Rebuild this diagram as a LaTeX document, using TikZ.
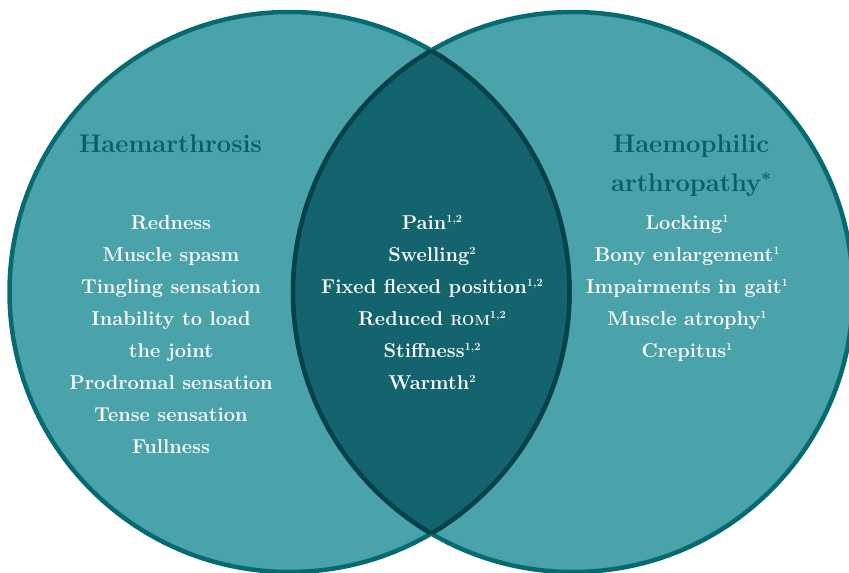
\documentclass[tikz,border=0pt]{standalone}
\definecolor{lightfill}{HTML}{4AA3AA}
\definecolor{outerline}{HTML}{066B70}
\definecolor{lensfill}{HTML}{13646E}
\definecolor{lensline}{HTML}{054248}
\definecolor{titlecol}{HTML}{0C5E64}
\newcommand{\sups}[1]{\raisebox{7pt}{\fontsize{11}{11}\selectfont #1}}
\begin{document}
\begin{tikzpicture}[x=1pt,y=-1pt,
  item/.style={anchor=base, inner sep=0pt, text=white, font=\fontsize{20}{24}\selectfont\bfseries},
  ttl/.style={anchor=base, inner sep=0pt, text=titlecol, font=\fontsize{25.5}{39}\selectfont\bfseries},
  ring/.style={line width=4.5pt}]
\useasboundingbox (0,0) rectangle (849,573);
\coordinate (cl) at (289.5,292);
\coordinate (cr) at (573,292);
% fills
\fill[lightfill] (cl) circle [radius=280pt];
\fill[lightfill] (cr) circle [radius=280pt];
\begin{scope}
  \clip (cl) circle [radius=280pt];
  \fill[lensfill] (cr) circle [radius=280pt];
\end{scope}
% outer rings
\draw[ring, outerline] (cl) circle [radius=280pt];
\draw[ring, outerline] (cr) circle [radius=280pt];
% lens borders
\begin{scope}
  \clip (cl) circle [radius=280pt];
  \draw[ring, lensline] (cr) circle [radius=280pt];
\end{scope}
\begin{scope}
  \clip (cr) circle [radius=280pt];
  \draw[ring, lensline] (cl) circle [radius=280pt];
\end{scope}
% titles
\node[ttl] (t1) at (170.5,152) {Haemarthrosis};
\node[ttl] (t2a) at (691,152) {Haemophilic};
\node[ttl] (t2b) at (691,191) {arthropathy\raisebox{6pt}{\fontsize{17}{17}\selectfont *}};
% left items
\node[item] (l1) at (171,229.5) {Redness};
\node[item] (l2) at (171,261.5) {Muscle spasm};
\node[item] (l3) at (171,293.5) {Tingling sensation};
\node[item] (l4) at (171,325.5) {Inability to load};
\node[item] (l5) at (171,357.5) {the joint};
\node[item] (l6) at (171,389.5) {Prodromal sensation};
\node[item] (l7) at (171,421.5) {Tense sensation};
\node[item] (l8) at (171,453.5) {Fullness};
% centre items
\node[item] (c1) at (432,229.5) {Pain\sups{1,2}};
\node[item] (c2) at (432,261.5) {Swelling\sups{2}};
\node[item] (c3) at (432,293.5) {Fixed flexed position\sups{1,2}};
\node[item] (c4) at (432,325.5) {Reduced {\fontsize{14.5}{15}\selectfont ROM}\sups{1,2}};
\node[item] (c5) at (432,357.5) {Stiffness\sups{1,2}};
\node[item] (c6) at (432,389.5) {Warmth\sups{2}};
% right items
\node[item] (r1) at (687,229.5) {Locking\sups{1}};
\node[item] (r2) at (687,261.5) {Bony enlargement\sups{1}};
\node[item] (r3) at (687,293.5) {Impairments in gait\sups{1}};
\node[item] (r4) at (687,325.5) {Muscle atrophy\sups{1}};
\node[item] (r5) at (687,357.5) {Crepitus\sups{1}};
\end{tikzpicture}
\end{document}
